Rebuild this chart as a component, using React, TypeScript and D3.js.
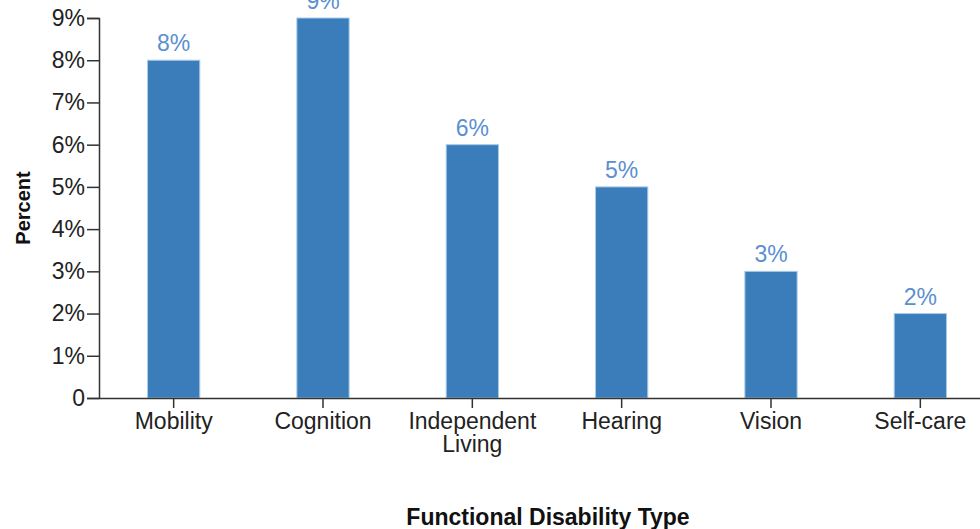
import React, { useEffect, useRef } from 'react';
import * as d3 from "d3";

const categories = ["Mobility", "Cognition", "Independent Living", "Hearing", "Vision", "Self-care"];
const percents = [8, 9, 6, 5, 3, 2];
const yTicks = [0, 1, 2, 3, 4, 5, 6, 7, 8, 9];

const width = 980;
const height = 529;
const margin = { top: 18, right: -15, bottom: 131, left: 99 };

const App = () => {
    const svgRef = useRef<SVGSVGElement | null>(null);

    useEffect(() => {
        if (!svgRef.current) return;
        const svg = d3.select(svgRef.current);
        svg.selectAll("*").remove();

        const font = "'Liberation Sans', Arial, sans-serif";

        const x = d3.scaleBand<string>()
            .domain(categories)
            .range([margin.left, width - margin.right])
            .paddingInner(0.65)
            .paddingOuter(0.325);

        const y = d3.scaleLinear()
            .domain([0, 9])
            .range([height - margin.bottom, margin.top]);

        // bars
        svg.append("g")
            .selectAll("rect")
            .data(categories)
            .join("rect")
            .attr("x", (d) => x(d) as number)
            .attr("y", (_d, i) => y(percents[i]))
            .attr("width", x.bandwidth())
            .attr("height", (_d, i) => y(0) - y(percents[i]))
            .attr("fill", "#3a7dba")
            .attr("stroke", "#a9cbea")
            .attr("stroke-width", 1);

        // value labels
        svg.append("g")
            .selectAll("text")
            .data(categories)
            .join("text")
            .attr("x", (d) => (x(d) as number) + x.bandwidth() / 2)
            .attr("y", (_d, i) => y(percents[i]) - 9)
            .attr("text-anchor", "middle")
            .attr("font-family", font)
            .attr("font-size", 23)
            .attr("fill", "#5b8fcf")
            .text((_d, i) => `${percents[i]}%`);

        // y axis
        const yAxis = d3.axisLeft(y)
            .tickValues(yTicks)
            .tickSize(12)
            .tickPadding(2)
            .tickFormat((d) => (+d === 0 ? "0" : `${d}%`));
        const gy = svg.append("g")
            .attr("transform", `translate(${margin.left}, 0)`)
            .call(yAxis);
        gy.selectAll("text")
            .attr("font-family", font)
            .attr("font-size", 23)
            .attr("fill", "#222");
        gy.selectAll("line, path").attr("stroke", "#333").attr("stroke-width", 1.5);

        // x axis
        const xAxis = d3.axisBottom(x).tickSize(10).tickSizeOuter(0).tickPadding(5);
        const gx = svg.append("g")
            .attr("transform", `translate(0, ${y(0)})`)
            .call(xAxis);
        gx.selectAll("line, path").attr("stroke", "#333").attr("stroke-width", 1.5);
        gx.selectAll<SVGTextElement, string>("text")
            .attr("font-family", font)
            .attr("font-size", 23)
            .attr("fill", "#222")
            .each(function (d) {
                const t = d3.select(this);
                const words = d.split(" ");
                if (words.length > 1) {
                    t.text(null);
                    words.forEach((w, i) => {
                        t.append("tspan")
                            .attr("x", 0)
                            .attr("dy", i === 0 ? "0.71em" : "1em")
                            .text(w);
                    });
                    t.attr("dy", null);
                }
            });

        // axis titles
        svg.append("text")
            .attr("transform", `translate(30, ${(y(0) + y(9)) / 2}) rotate(-90)`)
            .attr("text-anchor", "middle")
            .attr("font-family", font)
            .attr("font-size", 20)
            .attr("font-weight", "bold")
            .attr("fill", "#111")
            .text("Percent");

        svg.append("text")
            .attr("x", 548)
            .attr("y", 525)
            .attr("text-anchor", "middle")
            .attr("font-family", font)
            .attr("font-size", 23)
            .attr("font-weight", "bold")
            .attr("fill", "#111")
            .text("Functional Disability Type");
    }, []);

    return (
        <svg
            ref={svgRef}
            width={width}
            height={height}
            style={{ position: "absolute", left: 0, top: 0, background: "#fff" }}
        ></svg>
    );
};

export default App;
